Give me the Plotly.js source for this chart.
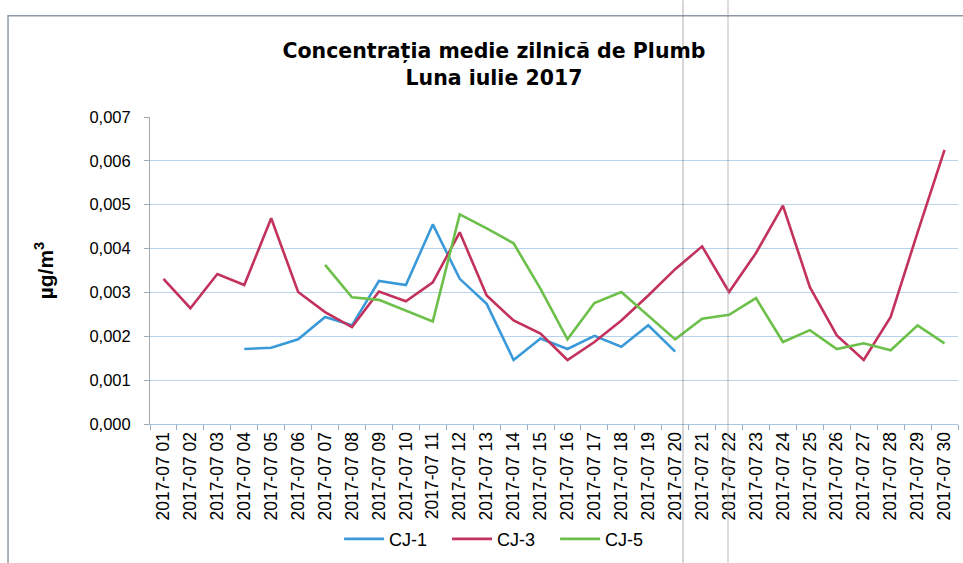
<!DOCTYPE html>
<html><head><meta charset="utf-8">
<script src="https://cdn.plot.ly/plotly-3.0.1.min.js"></script>
<style>html,body{margin:0;padding:0;background:#fff;}#chart{width:963px;height:563px;}</style>
</head><body><div id="chart"></div>
<script>
var days = ["2017-07 01","2017-07 02","2017-07 03","2017-07 04","2017-07 05","2017-07 06","2017-07 07","2017-07 08","2017-07 09","2017-07 10","2017-07 11","2017-07 12","2017-07 13","2017-07 14","2017-07 15","2017-07 16","2017-07 17","2017-07 18","2017-07 19","2017-07 20","2017-07 21","2017-07 22","2017-07 23","2017-07 24","2017-07 25","2017-07 26","2017-07 27","2017-07 28","2017-07 29","2017-07 30"];
var cj1 = [null,null,null,0.00171,0.00174,0.00193,0.00244,0.00225,0.00326,0.00317,0.00455,0.00331,0.00274,0.00146,0.00195,0.00171,0.00201,0.00176,0.00225,0.00165,null,null,null,null,null,null,null,null,null,null];
var cj3 = [0.00331,0.00264,0.00342,0.00317,0.00469,0.00301,0.00255,0.00221,0.00302,0.00280,0.00323,0.00437,0.00293,0.00236,0.00206,0.00146,0.00187,0.00236,0.00293,0.00353,0.00405,0.00301,0.00390,0.00498,0.00312,0.00202,0.00146,0.00244,0.00437,0.00625];
var cj5 = [null,null,null,null,null,null,0.00363,0.00289,0.00283,0.00259,0.00234,0.00478,0.00446,0.00412,0.00308,0.00193,0.00276,0.00301,0.00248,0.00193,0.00240,0.00249,0.00287,0.00187,0.00214,0.00171,0.00184,0.00168,0.00225,0.00184];
var names = ["CJ-1","CJ-3","CJ-5"];
var colors = ["#3a9ad9","#c2325c","#6cc04a"];

var traces = [cj1,cj3,cj5].map(function(v,i){
  return {x: days, y: v, name: names[i], type: 'scatter', mode: 'lines',
    line: {color: colors[i], width: 2.6}, connectgaps: false, hoverinfo: 'skip'};
});

var layout = {
  width: 963, height: 563,
  margin: {l: 150, r: 5, t: 117, b: 137},
  paper_bgcolor: '#fff', plot_bgcolor: '#fff',
  separators: ',.',
  font: {family: 'Liberation Sans, Arial, sans-serif', color: '#000', size: 16},
  title: {text: '<b>Concentrația medie zilnică de Plumb<br>Luna iulie 2017</b>',
    font: {size: 20.5, family: 'DejaVu Sans, sans-serif', color: '#000'},
    x: 494/963, xref: 'container', xanchor: 'center', y: 1 - 58/563, yref: 'container', yanchor: 'middle'},
  showlegend: true,
  legend: {orientation: 'h', x: 0.234, xanchor: 'left', y: -0.375, yanchor: 'middle',
    font: {size: 18}, entrywidth: 53, entrywidthmode: 'pixels', itemwidth: 40, bgcolor: 'rgba(0,0,0,0)'},
  xaxis: {type: 'category', range: [-0.5, 29.5], tickangle: -90,
    tickfont: {size: 17.5}, showgrid: false, showline: true, linecolor: '#a9c6e0', linewidth: 1,
    ticks: 'outside', tickson: 'boundaries', ticklen: 5, tickcolor: '#9aaabb', fixedrange: true, automargin: false},
  yaxis: {range: [0, 0.007], dtick: 0.001, tickformat: '.3f', tickfont: {size: 16.5},
    showgrid: true, gridcolor: '#b7d3ee', gridwidth: 1, zeroline: false,
    showline: true, linecolor: '#a0a8b0', linewidth: 1, ticks: 'outside', ticklen: 5, tickcolor: '#a0a8b0',
    ticklabelstandoff: 10,
    title: {text: '<b>µg/m<sup>3</sup></b>', font: {size: 21}, standoff: 30}, automargin: false, fixedrange: true},
  shapes: [
    {type: 'rect', xref: 'paper', yref: 'paper', x0: -0.1757, x1: 1.02, y0: -0.47, y1: 1.330,
      line: {color: '#8f9aa6', width: 1.5}, fillcolor: 'rgba(0,0,0,0)', layer: 'below'},
    {type: 'line', xref: 'paper', yref: 'paper', x0: (683-150)/808, x1: (683-150)/808, y0: -0.47, y1: 1.38,
      line: {color: 'rgba(110,110,110,0.55)', width: 1}},
    {type: 'line', xref: 'paper', yref: 'paper', x0: (728-150)/808, x1: (728-150)/808, y0: -0.47, y1: 1.38,
      line: {color: 'rgba(150,150,150,0.45)', width: 1.5}}
  ]
};
Plotly.newPlot('chart', traces, layout, {displayModeBar: false, staticPlot: true});
</script></body></html>
